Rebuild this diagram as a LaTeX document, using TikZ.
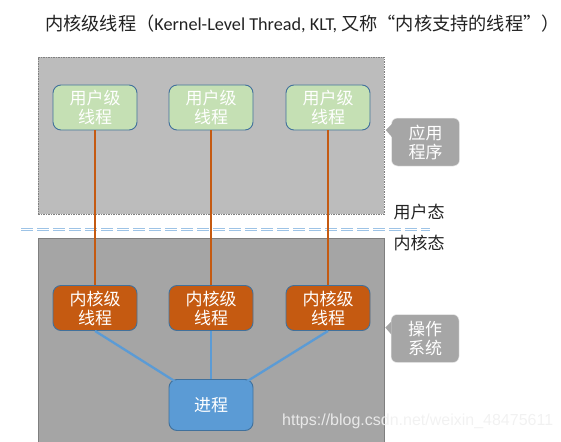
\documentclass[tikz,border=0pt]{standalone}
\usepackage{fontspec}
\setmainfont{Carlito}
\newfontfamily\cjk{Noto Sans CJK SC}
\newfontfamily\wmfont{Liberation Sans}
\definecolor{ugreen}{HTML}{C5E0B4}
\definecolor{korange}{HTML}{C55A11}
\definecolor{pblue}{HTML}{5B9BD5}
\definecolor{bedge}{HTML}{41719C}
\definecolor{topgray}{HTML}{BCBCBC}
\definecolor{botgray}{HTML}{A5A5A5}
\definecolor{edgegray}{HTML}{7F7F7F}
\definecolor{callgray}{HTML}{A6A6A6}
\definecolor{dashblue}{HTML}{9DC3E6}
\definecolor{titlecol}{HTML}{222222}
\tikzset{
  thbox/.style={rectangle, rounded corners=8pt, draw=bedge, line width=0.9pt,
    minimum width=84pt, minimum height=45pt, inner sep=0pt, text=white, align=center,
    font=\cjk\fontsize{17}{19}\selectfont},
  ubox/.style={thbox, fill=ugreen},
  kbox/.style={thbox, fill=korange},
  pbox/.style={thbox, fill=pblue, minimum height=51pt},
  callbox/.style={rectangle, rounded corners=6pt, fill=callgray, draw=white!85!gray, line width=0.5pt,
    minimum width=68pt, minimum height=48pt, inner sep=0pt, text=white, align=center,
    font=\cjk\fontsize{17}{19}\selectfont},
  region/.style={rectangle, inner sep=0pt, anchor=north west},
  statelabel/.style={font=\cjk\fontsize{17}{19}\selectfont, text=titlecol, inner sep=0pt},
  orangeline/.style={draw=korange, line width=2.6pt},
  blueline/.style={draw=pblue, line width=2.3pt},
}
\begin{document}
\begin{tikzpicture}[x=1pt,y=-1pt]
\useasboundingbox (0,0) rectangle (561,441);
% title
\node[anchor=west, inner sep=0pt, text=titlecol, font=\fontsize{18.2}{21}\selectfont] (title) at (45,24)
  {{\cjk 内核级线程（}Kernel-Level Thread, KLT, {\cjk 又称“内核支持的线程”）}};
% regions
\node[region, fill=topgray, draw=edgegray, line width=0.8pt, dash pattern=on 1.5pt off 1pt,
  minimum width=346pt, minimum height=157pt] (userreg) at (38,57) {};
\node[region, fill=botgray, draw=edgegray, line width=0.8pt,
  minimum width=346pt, minimum height=215pt] (kernreg) at (38,238) {};
% dashed boundary
\coordinate (dl) at (21,229.5);
\coordinate (dr) at (430,229.5);
\draw[dashblue, line width=1.2pt, double=white, double distance=1pt, dash pattern=on 12pt off 4pt] (dl) -- (dr);
% state labels
\node[statelabel] (ustate) at (419,212) {用户态};
\node[statelabel] (kstate) at (419,243) {内核态};
% user threads
\node[ubox] (u1) at (95,107.5) {用户级\\线程};
\node[ubox] (u2) at (211,107.5) {用户级\\线程};
\node[ubox] (u3) at (328,107.5) {用户级\\线程};
% kernel threads
\node[kbox] (k1) at (95,308) {内核级\\线程};
\node[kbox] (k2) at (211,308) {内核级\\线程};
\node[kbox] (k3) at (328,308) {内核级\\线程};
% process
\node[pbox] (p) at (211,405) {进程};
% connectors
\draw[orangeline] (u1.south) -- (k1.north);
\draw[orangeline] (u2.south) -- (k2.north);
\draw[orangeline] (u3.south) -- (k3.north);
\draw[blueline] (k1.south) -- ([xshift=6pt,yshift=-2pt]p.north west);
\draw[blueline] (k2.south) -- (p.north);
\draw[blueline] (k3.south) -- ([xshift=-6pt,yshift=-2pt]p.north east);
% callouts
\node[callbox] (c1) at (425.5,142) {应用\\程序};
\fill[callgray] ([xshift=0.6pt,yshift=18pt]c1.west) -- ([xshift=-5.5pt,yshift=12pt]c1.west) -- ([xshift=0.6pt,yshift=5pt]c1.west) -- cycle;
\node[callbox] (c2) at (425,338.5) {操作\\系统};
\fill[callgray] ([xshift=0.6pt,yshift=17pt]c2.west) -- ([xshift=-5.5pt,yshift=11pt]c2.west) -- ([xshift=0.6pt,yshift=4pt]c2.west) -- cycle;
% watermark
\node[anchor=west, inner sep=0pt, text=white!88!gray, opacity=0.9, font=\wmfont\fontsize{16}{18}\selectfont] (wm) at (282,421) {https://blog.csdn.net/weixin\_48475611};
\end{tikzpicture}
\end{document}
